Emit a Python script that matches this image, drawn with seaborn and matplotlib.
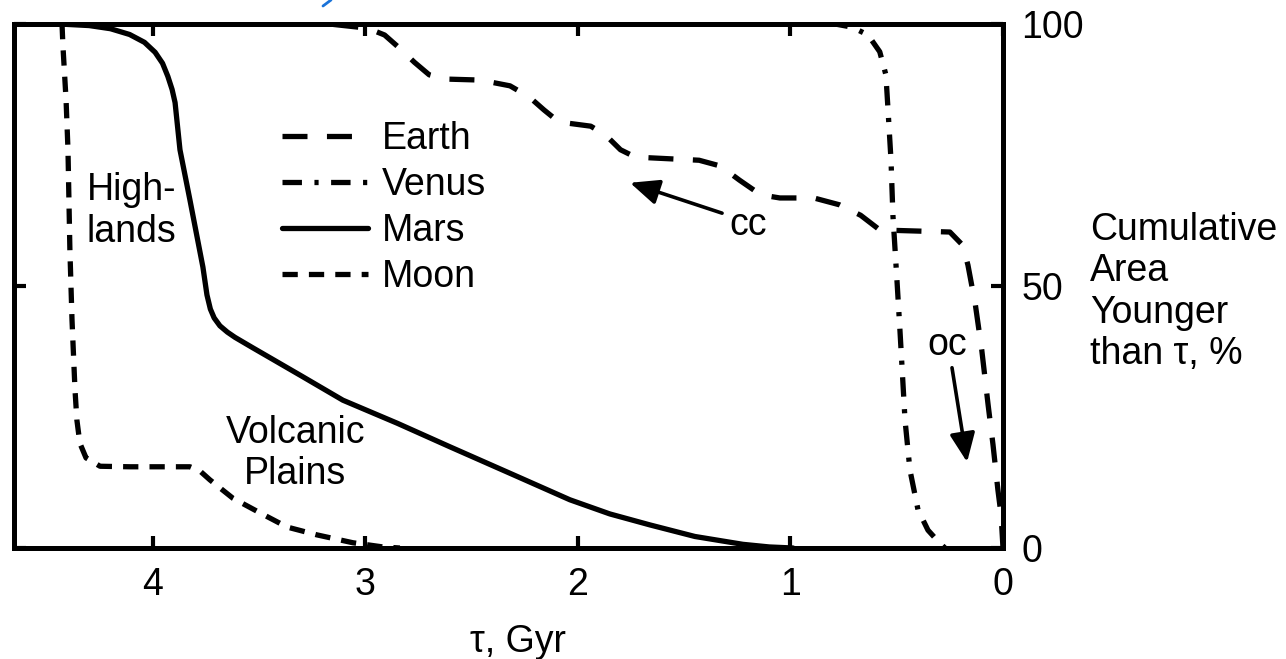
import matplotlib
matplotlib.use("Agg")
import matplotlib.pyplot as plt
from matplotlib.lines import Line2D
import seaborn as sns

# Cumulative area younger than a given age (tau, Gyr) for each body, in percent
earth_age = [3.36, 3.17, 2.99, 2.91, 2.84, 2.77, 2.70, 2.63, 2.46, 2.32, 2.23, 2.16, 2.09,
             1.94, 1.87, 1.80, 1.73, 1.43, 1.33, 1.24, 1.14, 1.05, 0.89, 0.77, 0.67, 0.58,
             0.25, 0.19, 0.165, 0.13, 0.10, 0.07, 0.047, 0.024, 0.009, 0.0]
earth_pct = [100, 100, 99.2, 97.9, 95.4, 92.7, 90.3, 89.5, 89.3, 88.2, 86.1, 83.6, 81.3,
             80.5, 78.8, 76.0, 74.6, 74.0, 72.9, 70.2, 67.4, 66.8, 66.8, 65.5, 63.5, 60.7,
             60.3, 57.8, 54.0, 46.4, 37.8, 27.3, 19.7, 11.1, 6.3, 0]

venus_age = [1.05, 0.79, 0.71, 0.635, 0.58, 0.551, 0.541, 0.527, 0.518, 0.499, 0.485,
             0.461, 0.438, 0.40, 0.353, 0.306, 0.273]
venus_pct = [100, 100, 99.4, 97.9, 94.7, 90.3, 83.6, 74.0, 63.5, 51.1, 41.6,
             24.4, 14.9, 7.3, 3.4, 1.3, 0]

mars_age = [4.654, 4.44, 4.30, 4.20, 4.11, 4.04, 3.99, 3.955, 3.93, 3.91, 3.896, 3.873,
            3.826, 3.765, 3.746, 3.730, 3.712, 3.685, 3.650, 3.614, 3.53, 3.449, 3.30,
            3.106, 2.85, 2.602, 2.30, 2.038, 1.85, 1.661, 1.45, 1.224, 1.10, 0.988]
mars_pct = [100, 100, 99.7, 99.1, 98.0, 96.5, 94.6, 92.5, 90.0, 87.5, 85.0, 76.0,
            66.4, 53.6, 48.3, 45.6, 43.9, 42.4, 41.2, 40.2, 38.2, 36.3, 32.8,
            28.2, 23.8, 19.3, 13.9, 9.2, 6.5, 4.4, 2.2, 0.7, 0.2, 0]

moon_age = [4.428, 4.424, 4.409, 4.40, 4.391, 4.381, 4.367, 4.358, 4.344, 4.315, 4.249,
            4.108, 3.826, 3.779, 3.732, 3.624, 3.496, 3.369, 3.228, 3.059, 2.918, 2.838]
moon_pct = [100, 96.0, 85.5, 76.0, 56.9, 43.5, 30.2, 24.4, 20.0, 17.2, 15.6,
            15.5, 15.5, 14.7, 13.0, 9.5, 6.7, 4.0, 2.5, 1.0, 0.2, 0]

x_ticks = [4, 3, 2, 1, 0]
y_ticks = [0, 50, 100]

sns.set_theme(style="ticks")
plt.rcParams["font.family"] = ["Liberation Sans", "DejaVu Sans"]
plt.rcParams["lines.scale_dashes"] = False
plt.rcParams["text.color"] = "black"
plt.rcParams["axes.labelcolor"] = "black"
plt.rcParams["xtick.color"] = "black"
plt.rcParams["ytick.color"] = "black"

FS = 27

fig = plt.figure(figsize=(12.86, 6.59), dpi=100)
ax = fig.add_axes([14 / 1286, 1 - 548 / 659, (1003 - 14) / 1286, (548 - 24) / 659])

series = [
    ("Earth", earth_age, earth_pct, (0, (18, 14))),
    ("Venus", venus_age, venus_pct, (0, (14, 9, 3, 9))),
    ("Mars", mars_age, mars_pct, "-"),
    ("Moon", moon_age, moon_pct, (0, (11, 8))),
]
for name, age, pct, ls in series:
    sns.lineplot(x=age, y=pct, ax=ax, color="black", linewidth=3.8, linestyle=ls,
                 label=name, sort=False, estimator=None)

ax.set_xlim(4.654, 0)
ax.set_ylim(0, 100)
ax.set_xticks(x_ticks)
ax.set_xticklabels([str(t) for t in x_ticks])
ax.set_yticks(y_ticks)
ax.set_yticklabels([str(t) for t in y_ticks])

for sp in ax.spines.values():
    sp.set_visible(True)
    sp.set_linewidth(3.6)
    sp.set_color("black")

ax.tick_params(direction="in", length=8.5, width=3, color="black",
               top=True, right=True, bottom=True, left=True,
               labelsize=FS, labelcolor="black")
ax.tick_params(axis="y", labelleft=False, labelright=True, pad=13)
ax.tick_params(axis="x", pad=14)

ax.set_ylabel("")
ax.set_xlabel("τ, Gyr", fontsize=FS, color="black")
ax.xaxis.set_label_coords(0.51, -0.145)

ax.text(1.088, 0.4885, "Cumulative\nArea\nYounger\nthan τ, %", transform=ax.transAxes,
        ha="left", va="center", fontsize=FS, multialignment="left", color="black")

ax.text(4.10, 64.3, "High-\nlands", ha="center", va="center", fontsize=FS,
        multialignment="left", color="black")
ax.text(3.33, 18.0, "Volcanic\nPlains", ha="center", va="center", fontsize=FS,
        multialignment="center", color="black")

ax.text(1.20, 59.7, "cc", ha="center", va="baseline", fontsize=FS, color="black")
ax.text(0.264, 36.8, "oc", ha="center", va="baseline", fontsize=FS, color="black")

arrow = dict(arrowstyle="-|>,head_length=0.8,head_width=0.35", mutation_scale=22,
             lw=2.6, color="black", shrinkA=0, shrinkB=0)
ax.annotate("", xy=(1.755, 69.7), xytext=(1.322, 63.9), arrowprops=arrow)
ax.annotate("", xy=(0.169, 16.4), xytext=(0.24, 34.4), arrowprops=arrow)

leg = ax.legend(loc="upper left", bbox_to_anchor=(0.271, 0.815), frameon=False, fontsize=FS,
                handlelength=2.3, handletextpad=0.35, labelspacing=0.27, borderpad=0,
                borderaxespad=0)
for t in leg.get_texts():
    t.set_color("black")

# small blue stroke at the top edge
fig.add_artist(Line2D([323 / 1286, 331 / 1286], [1 - 6 / 659, 1.0], color="#1a73d9",
                      linewidth=2, transform=fig.transFigure))

fig.savefig("out.png", dpi=100, facecolor="white")
